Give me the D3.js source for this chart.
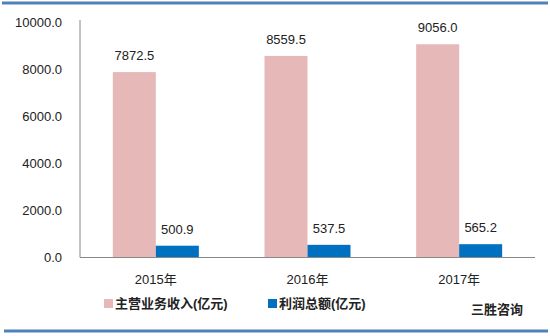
<!DOCTYPE html>
<html>
<head>
<meta charset="utf-8">
<script src="https://cdn.jsdelivr.net/npm/d3@7"></script>
<style>
  body { margin: 0; background: #fff; }
  text { font-family: "Liberation Sans", "Noto Sans CJK SC", sans-serif; }
</style>
</head>
<body>
<div id="chart"></div>
<script>
const years = ["2015年", "2016年", "2017年"];
const revenue = [7872.5, 8559.5, 9056.0];
const profit = [500.9, 537.5, 565.2];
const seriesNames = ["主营业务收入(亿元)", "利润总额(亿元)"];
const yTicks = [0, 2000, 4000, 6000, 8000, 10000];
const source = "三胜咨询";

const svgWidth = 550;
const svgHeight = 336;
const colors = ["#E6B9B8", "#0070C0"];

const svg = d3.select("#chart")
    .append("svg")
    .attr("width", svgWidth)
    .attr("height", svgHeight);

// blue rules at top and bottom
svg.append("line")
    .attr("x1", 2).attr("x2", 548).attr("y1", 3).attr("y2", 3)
    .attr("stroke", "#4F81BD").attr("stroke-width", 3);
svg.append("line")
    .attr("x1", 4).attr("x2", 548).attr("y1", 331).attr("y2", 331)
    .attr("stroke", "#4F81BD").attr("stroke-width", 3);

const plotLeft = 80, plotRight = 535, plotTop = 20, plotBottom = 257.5;

const yScale = d3.scaleLinear()
    .domain([0, 10000])
    .range([plotBottom, plotBottom - 47.1 * 5]);

const xScale = d3.scaleBand()
    .domain(years)
    .range([plotLeft, plotRight]);

const inner = d3.scaleBand()
    .domain([0, 1])
    .range([-43, 43]);

// y labels (no axis ticks)
svg.selectAll(".ylab")
    .data(yTicks)
    .enter()
    .append("text")
    .attr("class", "ylab")
    .attr("x", 62)
    .attr("y", d => yScale(d))
    .attr("dy", "0.35em")
    .style("text-anchor", "end")
    .style("font-size", "13px")
    .style("fill", "#222")
    .text(d => d.toFixed(1));

const data = years.map((y, i) => ({ year: y, values: [revenue[i], profit[i]] }));

const groups = svg.selectAll(".grp")
    .data(data)
    .enter()
    .append("g")
    .attr("class", "grp")
    .attr("transform", d => `translate(${xScale(d.year) + xScale.bandwidth() / 2},0)`);

groups.selectAll("rect")
    .data(d => d.values)
    .enter()
    .append("rect")
    .attr("x", (d, i) => inner(i))
    .attr("y", d => yScale(d))
    .attr("width", inner.bandwidth())
    .attr("height", d => plotBottom - yScale(d))
    .attr("fill", (d, i) => colors[i]);

groups.selectAll(".val")
    .data(d => d.values)
    .enter()
    .append("text")
    .attr("class", "val")
    .attr("x", (d, i) => inner(i) + inner.bandwidth() / 2)
    .attr("y", d => yScale(d) - 12)
    .style("text-anchor", "middle")
    .style("font-size", "13px")
    .style("fill", "#222")
    .text(d => d.toFixed(1));

// axes lines
svg.append("line")
    .attr("x1", plotLeft).attr("x2", plotLeft).attr("y1", plotTop).attr("y2", plotBottom)
    .attr("stroke", "#888").attr("stroke-width", 1);
svg.append("line")
    .attr("x1", plotLeft).attr("x2", plotRight).attr("y1", plotBottom).attr("y2", plotBottom)
    .attr("stroke", "#888").attr("stroke-width", 1);

svg.selectAll(".xlab")
    .data(years)
    .enter()
    .append("text")
    .attr("class", "xlab")
    .attr("x", d => xScale(d) + xScale.bandwidth() / 2)
    .attr("y", 284)
    .style("text-anchor", "middle")
    .style("font-size", "13px")
    .style("fill", "#222")
    .text(d => d);

// legend
const legendX = [104, 268];
const legend = svg.selectAll(".legend")
    .data(seriesNames)
    .enter()
    .append("g")
    .attr("class", "legend")
    .attr("transform", (d, i) => `translate(${legendX[i]},299)`);

legend.append("rect")
    .attr("width", 9)
    .attr("height", 9)
    .attr("fill", (d, i) => colors[i]);

legend.append("text")
    .attr("x", 11)
    .attr("y", 9)
    .style("font-size", "13px")
    .style("font-weight", "bold")
    .style("fill", "#222")
    .text(d => d);

svg.append("text")
    .attr("x", 523)
    .attr("y", 314)
    .style("text-anchor", "end")
    .style("font-size", "13px")
    .style("font-weight", "bold")
    .style("fill", "#222")
    .text(source);
</script>
</body>
</html>
